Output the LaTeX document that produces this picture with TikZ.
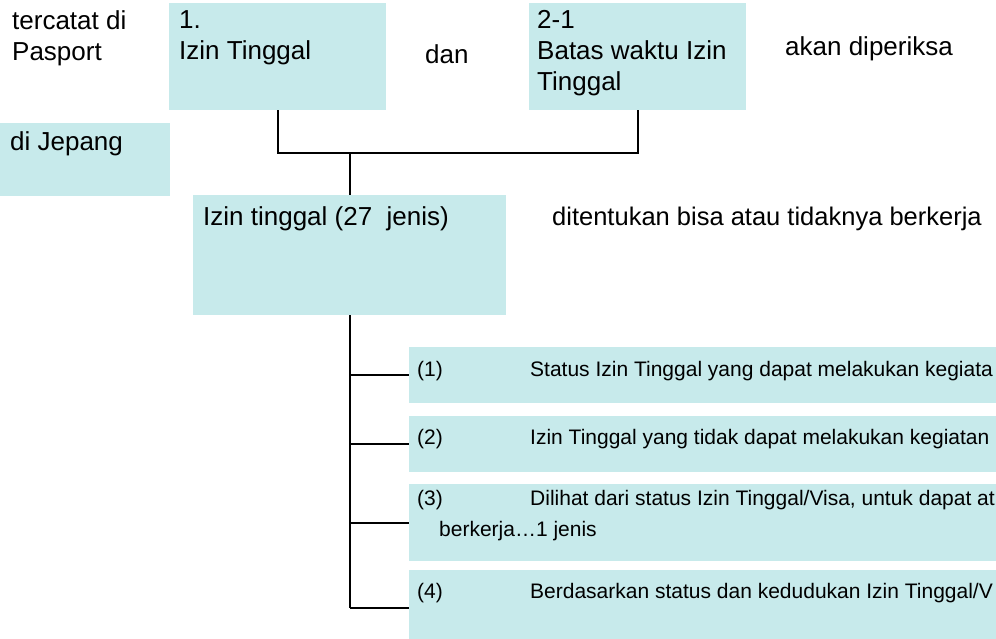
\documentclass[tikz,border=0pt]{standalone}
\usepackage{fontspec}
\setmainfont{Liberation Sans}
\usetikzlibrary{positioning}
\definecolor{izcyan}{RGB}{199,234,235}

\begin{document}
\begin{tikzpicture}[x=1pt,y=-1pt,node distance=12pt,
    box/.style={fill=izcyan,inner sep=0pt,anchor=north west},
    big/.style={font=\fontsize{26}{31}\selectfont,inner sep=0pt,
      anchor=north west,align=left,execute at begin node=\strut},
    rowtxt/.style={big,font=\fontsize{21}{31}\selectfont},
    link/.style={line width=2pt}]
  \useasboundingbox (0,0) rectangle (996,639);
  \clip (0,0) rectangle (996,639);
  % boxes
  \node[box,minimum width=217pt,minimum height=107pt] (izin) at (169,3) {};
  \node[box,minimum width=217pt,minimum height=107pt] (batas) at (529,3) {};
  \node[box,minimum width=170pt,minimum height=73pt] (jepang) at (0,123) {};
  \node[box,minimum width=313pt,minimum height=120pt] (jenis) at (193,195) {};
  \node[box,minimum width=600pt,minimum height=56pt] (r1) at (409,347) {};
  \node[box,minimum width=600pt,minimum height=56pt,below=of r1] (r2) {};
  \node[box,minimum width=600pt,minimum height=77pt,below=of r2] (r3) {};
  \node[box,minimum width=600pt,minimum height=76pt,below=9pt of r3] (r4) {};
  % texts
  \node[big] (pasport) at (12,10.3) {tercatat di\\Pasport};
  \node[big] at ([shift={(10,7.3)}]izin.north west) {1.\\Izin Tinggal};
  \node[big] (dan) at (425,41.3) {dan};
  \node[big] at ([shift={(8,7.3)}]batas.north west) {2-1\\Batas waktu Izin\\Tinggal};
  \node[big] (periksa) at (785,33.3) {akan diperiksa};
  \node[big] at ([shift={(10,5.3)}]jepang.north west) {di Jepang};
  \node[big] at ([shift={(10,8.3)}]jenis.north west) {Izin tinggal (27~ jenis)};
  \node[big,font=\fontsize{25.5}{31}\selectfont] (kerja) at (552,203.3)
    {ditentukan bisa atau tidaknya berkerja};
  \node[rowtxt] at ([shift={(8,7.3)}]r1.north west)
    {\makebox[113pt][l]{(1)}Status Izin Tinggal yang dapat melakukan kegiata};
  \node[rowtxt] at ([shift={(8,7.3)}]r2.north west)
    {\makebox[113pt][l]{(2)}Izin Tinggal yang tidak dapat melakukan kegiatan};
  \node[rowtxt] at ([shift={(8,6.3)}]r3.north west)
    {\makebox[113pt][l]{(3)}Dilihat dari status Izin Tinggal/Visa, untuk dapat at\\
     \hspace*{22pt}berkerja…1 jenis};
  \node[rowtxt] at ([shift={(8,6.3)}]r4.north west)
    {\makebox[113pt][l]{(4)}Berdasarkan status dan kedudukan Izin Tinggal/V};
  % connectors
  \coordinate (jn) at (jenis.north |- 0,153);
  \draw[link] (izin.south) |- (jn) -| (batas.south);
  \draw[link] (jn) -- (jenis.north);
  \draw[link] (jenis.south) -- (jenis.south |- r4.west);
  \foreach \r in {r1,r2,r3,r4}
    \draw[link] (jenis.south |- \r.west) -- (\r.west);
\end{tikzpicture}
\end{document}
